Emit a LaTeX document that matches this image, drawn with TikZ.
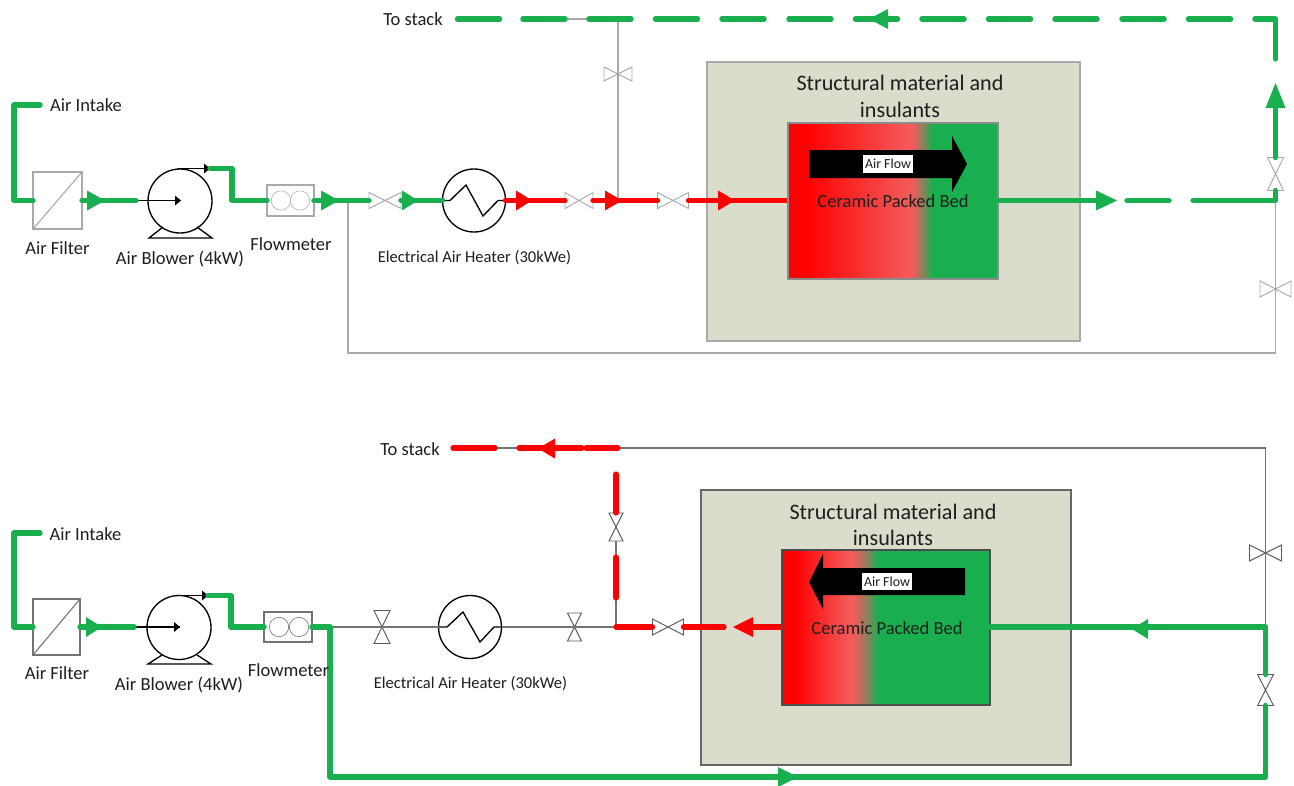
\documentclass[tikz,border=0pt]{standalone}
\usepackage{fontspec}
\setmainfont{Carlito}
\definecolor{pgreen}{HTML}{1AAF4E}
\definecolor{pred}{HTML}{FF0000}
\definecolor{lightred}{HTML}{F45A5A}
\definecolor{midbrown}{HTML}{9A7A5E}
\definecolor{boxfill}{HTML}{DADDCC}
\definecolor{greyline}{HTML}{A9A9A9}
\definecolor{ink}{HTML}{1E1E1E}
\pgfdeclarehorizontalshading{bedA}{100bp}{color(0bp)=(pred);color(29bp)=(pred);color(53.6bp)=(lightred);color(54.5bp)=(lightred);color(56.8bp)=(midbrown);color(59.2bp)=(pgreen);color(100bp)=(pgreen)}
\pgfdeclarehorizontalshading{bedB}{100bp}{color(0bp)=(pred);color(28bp)=(pred);color(41bp)=(lightred);color(42bp)=(lightred);color(45bp)=(midbrown);color(48bp)=(pgreen);color(100bp)=(pgreen)}
\tikzset{
  gr/.style={draw=pgreen,line width=4.1pt,line cap=round,line join=round},
  rd/.style={draw=pred,line width=3.9pt,line cap=round,line join=round},
  thin grey/.style={draw=greyline,line width=0.8pt},
  thin dark/.style={draw=black!55,line width=0.8pt},
  sym/.style={draw=black,line width=1pt},
  lbl/.style={text=ink,inner sep=0pt,font=\fontsize{13.9}{15}\selectfont},
  smalllbl/.style={text=ink,inner sep=0pt,font=\fontsize{12.4}{14}\selectfont},
  bigl/.style={text=ink,inner sep=0pt,font=\fontsize{16.6}{20}\selectfont},
  bedl/.style={text=ink,inner sep=0pt,font=\fontsize{13.9}{15}\selectfont},
  flowl/.style={text=ink,inner sep=0pt,font=\fontsize{10.4}{12}\selectfont},
  hull/.style={inner sep=0pt,outer sep=0pt},
}
% box node: name, x1,y1,x2,y2, style
\newcommand{\bx}[6]{\node[hull,#6,minimum width={((#4)-(#2))*0.75pt},minimum height={((#5)-(#3))*0.75pt}] (#1) at ({((#2)+(#4))/2},{((#3)+(#5))/2}) {};}
% valves: name, cx, cy, half w, half h, colour
\newcommand{\valveH}[6]{\bx{#1}{#2-#4}{#3-#5}{#2+#4}{#3+#5}{}\draw[#6,line width=0.7pt,line join=miter] (#1.north west)--(#1.south east)--(#1.north east)--(#1.south west)--cycle;}
\newcommand{\valveV}[6]{\bx{#1}{#2-#4}{#3-#5}{#2+#4}{#3+#5}{}\draw[#6,line width=0.7pt,line join=miter] (#1.north west)--(#1.north east)--(#1.south west)--(#1.south east)--cycle;}
% arrowheads
\newcommand{\headR}[4]{\fill[#4] (#1,#3-10)--(#2,#3)--(#1,#3+10)--cycle;}
\newcommand{\headU}[4]{\fill[#4] (#3-10,#1)--(#3,#2)--(#3+10,#1)--cycle;}
\newcommand{\blackhead}[2]{\fill[black] (#1-4,#2-5)--(#1+2,#2)--(#1-4,#2+5)--cycle;}
\begin{document}
\begin{tikzpicture}[x=0.75pt,y=-0.75pt]
\useasboundingbox (0,0) rectangle (1294,785);

% ============ TOP ===========
\coordinate (tIntake) at (40,105);
\coordinate (tBranch) at (348,200.5);
\coordinate (tLowL) at (348,353);
\coordinate (tLowR) at (1275.5,353);
\coordinate (tOutJ) at (1275.5,200.5);
\coordinate (tTee) at (618,200.5);
\coordinate (tTopT) at (618,19);
\coordinate (tGreyL) at (565,19);

\node[hull,draw=greyline,fill=boxfill,line width=0.8pt,minimum width={373*0.75pt},minimum height={279*0.75pt}] (tBox) at (893.5,201.5) {};
\node[bigl,align=center] (tBoxT) at (900,96.5) {Structural material and\\insulants};

\valveH{tVa}{385}{200.5}{16}{8}{greyline}
\bx{tFilter}{33}{172}{82}{229}{thin grey}
\draw[thin grey] (tFilter.south west)--(tFilter.north east);
\bx{tFlow}{267}{185}{314}{216}{thin grey}
\node[hull,draw=greyline,circle,minimum size={19.4*0.75pt}] (tFc1) at (281,200.5) {};
\node[hull,draw=greyline,circle,minimum size={19.4*0.75pt}] (tFc2) at (300,200.5) {};
\node[hull,sym,circle,minimum size={64*0.75pt}] (tBlow) at (180,201) {};
\coordinate (tBlowOut) at (210,168.5);
\coordinate (tBlowIn) at (136,200.5);
\coordinate (tBlowC) at (181,200.5);
\draw[sym,line join=miter] (163,227)--(149,238)--(212,238)--(197,227);
\draw[black,line width=0.9pt] (tBlowIn)--(tBlowC);
\blackhead{179}{200.5}
\draw[black,line width=0.9pt] (178,168.5)--(tBlowOut);
\blackhead{208}{168.5}
\node[hull,sym,circle,minimum size={63*0.75pt}] (tHeat) at (474,200.5) {};
\draw[sym] (tHeat.west)--(450,200.5)--(466,185)--(483,216)--(498,200.5)--(tHeat.east);
\valveH{tVb}{579}{200.5}{14}{8}{greyline}
\valveH{tVc}{673}{200.5}{15.5}{8}{greyline}
\valveH{tVd}{618}{74}{14}{7}{greyline}
\valveV{tVe}{1275.5}{174}{8}{16.5}{greyline}
\valveH{tVf}{1275.5}{289}{15.5}{8}{greyline}

\draw[thin grey] (tBranch)--(tLowL)--(tLowR)--(tVf.center)--(tOutJ);
\draw[thin grey] (tTee)--(tVd.center)--(tTopT)--(tGreyL);

\draw[gr] (tIntake)--(14,105)--(14,200.5)--(tFilter.west);
\draw[gr] (tFilter.east)--(tBlowIn);
\headR{87}{105}{200.5}{pgreen}
\draw[gr] (tBlowOut)--(232,168.5)--(232,200.5)--(tFlow.west);
\draw[gr] (tFlow.east)--(tVa.west);
\headR{321}{339}{200.5}{pgreen}
\draw[gr] (tVa.east)--(tHeat.west);
\headR{402}{418}{200.5}{pgreen}
\draw[rd] (tHeat.east)--(tVb.west);
\headR{516}{532}{200.5}{pred}
\draw[rd] (tVb.east)--(tVc.west);
\headR{605}{622}{200.5}{pred}
\draw[rd] (tVc.east)--(790,200.5);
\headR{718}{735}{200.5}{pred}

\node[hull,draw=black!45,line width=0.8pt,shading=bedA,minimum width={210*0.75pt},minimum height={156*0.75pt}] (tBed) at (893,201) {};
\fill[black] (809,150)--(952,150)--(952,136)--(967,164)--(952,192)--(952,178)--(809,178)--cycle;
\bx{tFlowBg}{863}{155}{913}{173}{fill=white}
\node[flowl] (tFlowL) at (888,164) {Air Flow};
\node[bedl] (tBedL) at (893,201) {Ceramic Packed Bed};

\coordinate (tBedOut) at (1100,200.5);
\draw[gr] (tBed.east|-tBedOut)--(tBedOut);
\headR{1096}{1117}{200.5}{pgreen}
\coordinate (tDa) at (1127,200.5); \coordinate (tDb) at (1169,200.5); \coordinate (tDc) at (1193,200.5);
\draw[gr] (tDa)--(tDb);
\draw[gr] (tDc)--(tOutJ)--(tVe.south);
\draw[gr] (tVe.north)--(1275.5,100);
\headU{108}{83}{1275.5}{pgreen}
\coordinate (tDd) at (1275.5,59); \coordinate (tDe) at (1255,19);
\draw[gr] (tDd)--(1275.5,19)--(tDe);
\foreach \xs in {457.5,523,589,655.5,722,789,855.5,922,988.5,1055,1122,1188.5}{
  \coordinate (tDash) at (\xs,19);
  \draw[gr] (tDash)--++(42,0);
}
\headR{888}{869}{19}{pgreen}

\node[lbl] (tTxtIntake) at (86,105.5) {Air Intake};
\node[lbl] (tTxtStack) at (413,19.5) {To stack};
\node[lbl] (tTxtFilter) at (57.5,248) {Air Filter};
\node[lbl] (tTxtBlow) at (180,259) {Air Blower (4kW)};
\node[lbl] (tTxtFlow) at (291,244) {Flowmeter};
\node[smalllbl] (tTxtHeat) at (474.5,258) {Electrical Air Heater (30kWe)};

% ============ BOTTOM ===========
\coordinate (bIntake) at (40,533);
\coordinate (bLoopL) at (330,627);
\coordinate (bTee) at (616,627);
\coordinate (bTopT) at (618,448);
\coordinate (bTopR) at (1265.5,448);
\coordinate (bJ) at (1265.5,627);
\coordinate (bSa) at (453,448); \coordinate (bSb) at (495,448); \coordinate (bSc) at (519,448);
\coordinate (bSd) at (582,448); \coordinate (bSe) at (586,448); \coordinate (bSf) at (618,448);

\node[hull,draw=black!60,fill=boxfill,line width=0.8pt,minimum width={370*0.75pt},minimum height={275*0.75pt}] (bBox) at (886,627.5) {};
\node[bigl,align=center] (bBoxT) at (893,525) {Structural material and\\insulants};

\bx{bFilter}{33}{599}{80}{655}{thin dark}
\draw[thin dark] (bFilter.south west)--(bFilter.north east);
\bx{bFlow}{264}{612}{312}{642}{thin dark}
\node[hull,draw=black!60,circle,minimum size={19.4*0.75pt}] (bFc1) at (279,627) {};
\node[hull,draw=black!60,circle,minimum size={19.4*0.75pt}] (bFc2) at (299,627) {};
\node[hull,sym,circle,minimum size={64*0.75pt}] (bBlow) at (179,627.5) {};
\coordinate (bBlowOut) at (208,595.5);
\coordinate (bBlowIn) at (134,627);
\coordinate (bBlowC) at (180,627);
\draw[sym,line join=miter] (162,655)--(148,664)--(211,664)--(197,655);
\draw[black,line width=0.9pt] (bBlowIn)--(bBlowC);
\blackhead{178}{627}
\draw[black,line width=0.9pt] (175,595.5)--(bBlowOut);
\blackhead{206}{595.5}
\node[hull,sym,circle,minimum size={63*0.75pt}] (bHeat) at (470,627) {};
\draw[sym] (bHeat.west)--(447,627)--(463,612)--(480,642)--(494,627)--(bHeat.east);
\valveV{bVa}{382}{627}{8}{16.5}{black!65}
\valveV{bVb}{574.5}{627}{7}{14}{black!65}
\valveH{bVc}{668}{627}{15.5}{8}{black!65}
\valveV{bVd}{616}{527}{7}{14}{black!65}
\valveH{bVe}{1265.5}{553}{16}{8}{black!65}
\valveV{bVf}{1265.5}{690}{8}{15.5}{black!65}

\draw[thin dark] (bFlow.east)--(bVa.center)--(bHeat.west);
\draw[thin dark] (bHeat.east)--(bVb.center)--(bTee);
\draw[thin dark] (bTee)--(bVd.south);
\draw[thin dark] (bTopT)--(bTopR)--(bVe.center)--(bJ);
\draw[thin dark] (bSa)--(bTopT);
\draw[gr] (bIntake)--(14,533)--(14,627)--(bFilter.west);
\draw[gr] (bFilter.east)--(bBlowIn);
\headR{86}{102}{627}{pgreen}
\draw[gr] (bBlowOut)--(231,595.5)--(231,627)--(bFlow.west);
\draw[gr] (bFlow.east)--(bLoopL)--(330,777)--(1265.5,777)--(bVf.south);
\headR{778}{798}{777}{pgreen}
\draw[rd] (bTee)--(bVc.west);
\coordinate (bRa) at (724,627);
\draw[rd] (bVc.east)--(bRa);
\coordinate (bRb) at (750,627);
\draw[rd] (bRb)--(784,627);
\headR{753}{733}{627}{pred}
\coordinate (bRc) at (616,598); \coordinate (bRd) at (616,557); \coordinate (bRe) at (616,474);
\draw[rd] (bRc)--(bRd);
\draw[rd] (bRe)--(bVd.north);
\draw[rd] (bSa)--(bSb);
\draw[rd] (bSc)--(bSd);
\draw[rd] (bSe)--(bSf);
\headR{555}{538}{448.5}{pred}

\node[hull,draw=black!70,line width=0.8pt,shading=bedB,minimum width={208*0.75pt},minimum height={155*0.75pt}] (bBed) at (886,627.5) {};
\fill[black] (965,568)--(823,568)--(823,554)--(809,582)--(823,609)--(823,595)--(965,595)--cycle;
\bx{bFlowBg}{862}{573}{912}{590}{fill=white}
\node[flowl] (bFlowL) at (887,581.5) {Air Flow};
\node[bedl] (bBedL) at (887,628) {Ceramic Packed Bed};

\draw[gr] (bBed.east|-bJ)--(bJ)--(bVf.north);
\headR{1148}{1132}{629}{pgreen}

\node[lbl] (bTxtIntake) at (85.5,534) {Air Intake};
\node[lbl] (bTxtStack) at (410,449) {To stack};
\node[lbl] (bTxtFilter) at (57,673) {Air Filter};
\node[lbl] (bTxtBlow) at (179,685) {Air Blower (4kW)};
\node[lbl] (bTxtFlow) at (288.5,670) {Flowmeter};
\node[smalllbl] (bTxtHeat) at (470.5,684) {Electrical Air Heater (30kWe)};
\end{tikzpicture}
\end{document}
